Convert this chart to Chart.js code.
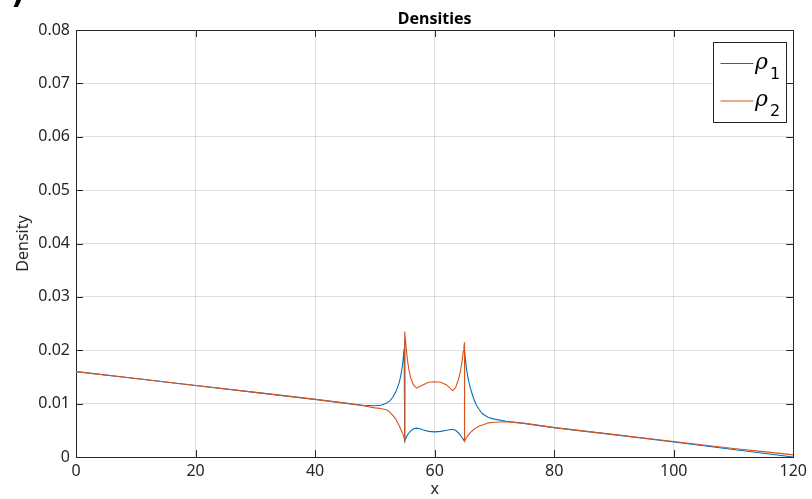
<!DOCTYPE html>
<html>
<head>
<meta charset="utf-8">
<script src="https://cdn.jsdelivr.net/npm/chart.js@4"></script>
<style>
  html, body { margin: 0; padding: 0; background: #ffffff; }
  #wrap { width: 812px; height: 499px; position: relative; }
</style>
</head>
<body>
<div id="wrap"><canvas id="c"></canvas></div>
<script>
// ---- data ----
const chartTitle = 'Densities';
const xAxisTitle = 'x';
const yAxisTitle = 'Density';
const seriesNames = ['ρ', 'ρ'];
const seriesSubscripts = ['1', '2'];
const xValues = [0, 10, 20, 30, 40, 45, 48, 50, 51, 52, 52.5, 53, 53.5, 54, 54.3, 54.6, 54.8, 54.9, 55,
                 55, 55.15, 55.3, 55.5, 55.7, 56, 56.5, 57, 57.5, 58, 59, 60, 61, 62, 62.5, 63, 63.5, 64, 64.3, 64.6, 64.8, 64.9, 65,
                 65, 65.15, 65.3, 65.5, 65.7, 66, 66.5, 67, 67.5, 68, 69, 70, 72, 75, 80, 90, 100, 110, 115, 120];
const rho1 = [0.0160, 0.0147, 0.0134, 0.0121, 0.0108, 0.0101, 0.0097, 0.0096, 0.0097, 0.0101, 0.0105, 0.0112, 0.0122, 0.0137, 0.0150, 0.0170, 0.0190, 0.0203, 0.0220,
              0.0030, 0.0034, 0.0038, 0.0042, 0.0045, 0.0049, 0.0053, 0.0054, 0.0053, 0.0051, 0.0048, 0.0047, 0.0048, 0.0050, 0.0051, 0.0052, 0.0050, 0.0045, 0.0041, 0.0036, 0.0033, 0.0031, 0.0030,
              0.0200, 0.0183, 0.0168, 0.0153, 0.0142, 0.0128, 0.0110, 0.0097, 0.0088, 0.0081, 0.0074, 0.0071, 0.0067, 0.0063, 0.0055, 0.0042, 0.0028, 0.0014, 0.0007, 0.0000];
const rho2 = [0.0160, 0.0147, 0.0134, 0.0121, 0.0108, 0.0101, 0.0096, 0.0092, 0.0091, 0.0088, 0.0084, 0.0078, 0.0071, 0.0060, 0.0053, 0.0045, 0.0040, 0.0036, 0.0032,
              0.0235, 0.0215, 0.0198, 0.0178, 0.0163, 0.0148, 0.0134, 0.0129, 0.0132, 0.0135, 0.0140, 0.0141, 0.0140, 0.0135, 0.0130, 0.0124, 0.0130, 0.0146, 0.0160, 0.0180, 0.0198, 0.0207, 0.0215,
              0.0030, 0.0033, 0.0036, 0.0039, 0.0042, 0.0046, 0.0051, 0.0055, 0.0058, 0.0060, 0.0064, 0.0065, 0.0066, 0.0063, 0.0055, 0.0042, 0.0029, 0.0016, 0.0010, 0.0004];
const xTicks = [0, 20, 40, 60, 80, 100, 120];
const yTicks = [0, 0.01, 0.02, 0.03, 0.04, 0.05, 0.06, 0.07, 0.08];
const seriesColors = ['#0072BD', '#D95319'];

const axisColor = '#262626';
const gridColor = 'rgba(38,38,38,0.15)';
const fontFamily = '"Noto Sans", "DejaVu Sans", sans-serif';

const framePlugin = {
  id: 'matlabFrame',
  beforeDatasetsDraw(chart) {
    const {ctx, chartArea: a, scales} = chart;
    ctx.save();
    ctx.strokeStyle = axisColor;
    ctx.lineWidth = 1;
    ctx.beginPath();
    const tl = 7;
    xTicks.forEach(v => {
      const px = Math.round(scales.x.getPixelForValue(v)) + 0.5;
      ctx.moveTo(px, a.bottom); ctx.lineTo(px, a.bottom - tl);
      ctx.moveTo(px, a.top); ctx.lineTo(px, a.top + tl);
    });
    yTicks.forEach(v => {
      const py = Math.round(scales.y.getPixelForValue(v)) + 0.5;
      ctx.moveTo(a.left, py); ctx.lineTo(a.left + tl, py);
      ctx.moveTo(a.right, py); ctx.lineTo(a.right - tl, py);
    });
    ctx.stroke();
    ctx.strokeRect(Math.round(a.left) + 0.5, Math.round(a.top) + 0.5,
                   Math.round(a.right - a.left), Math.round(a.bottom - a.top));
    ctx.restore();
  },
  afterDraw(chart) {
    const {ctx, chartArea: a} = chart;
    ctx.save();
    // title centred over the plot area
    ctx.fillStyle = '#000';
    ctx.font = 'bold 16px ' + fontFamily;
    ctx.textAlign = 'center';
    ctx.textBaseline = 'middle';
    ctx.fillText(chartTitle, (a.left + a.right) / 2, 19);

    // cropped panel label fragment at the top-left corner
    ctx.font = 'bold 30px "DejaVu Sans", sans-serif';
    ctx.textBaseline = 'alphabetic';
    ctx.textAlign = 'left';
    ctx.fillText(')', 11, 3);

    // legend box
    const bx = 713.5, by = 42.5, bw = 73, bh = 80;
    ctx.fillStyle = '#fff';
    ctx.fillRect(bx, by, bw, bh);
    ctx.strokeStyle = axisColor;
    ctx.lineWidth = 1;
    ctx.strokeRect(bx, by, bw, bh);
    const rows = [63.5, 101];
    chart.data.datasets.forEach((ds, i) => {
      const y = rows[i];
      ctx.strokeStyle = ds.borderColor;
      ctx.lineWidth = 1.2;
      ctx.beginPath();
      ctx.moveTo(720.5, y); ctx.lineTo(753.5, y);
      ctx.stroke();
      ctx.fillStyle = '#000';
      ctx.font = 'italic 22px "DejaVu Serif", "Liberation Serif", serif';
      ctx.textAlign = 'left';
      ctx.textBaseline = 'alphabetic';
      ctx.fillText(seriesNames[i], 755, y + 5);
      ctx.font = '16px "DejaVu Sans", sans-serif';
      ctx.fillText(seriesSubscripts[i], 770, y + 15);
    });
    ctx.restore();
  }
};

const makeData = (ys) => xValues.map((x, i) => ({x: x, y: ys[i]}));

new Chart(document.getElementById('c'), {
  type: 'line',
  data: {
    datasets: [
      { label: 'ρ1', data: makeData(rho1), borderColor: seriesColors[0], backgroundColor: seriesColors[0],
        borderWidth: 1.1, pointRadius: 0, tension: 0, fill: false, order: 2 },
      { label: 'ρ2', data: makeData(rho2), borderColor: seriesColors[1], backgroundColor: seriesColors[1],
        borderWidth: 1.1, pointRadius: 0, tension: 0, fill: false, order: 1 }
    ]
  },
  options: {
    responsive: true,
    maintainAspectRatio: false,
    animation: false,
    layout: { padding: { left: 0, right: 15, top: 30, bottom: 0 } },
    plugins: {
      legend: { display: false },
      tooltip: { enabled: false },
      title: { display: false }
    },
    scales: {
      x: {
        type: 'linear', min: 0, max: 120,
        afterBuildTicks: (s) => { s.ticks = xTicks.map(v => ({value: v})); },
        afterFit: (s) => { s.height = 42; },
        grid: { color: gridColor, drawTicks: false, lineWidth: 1 },
        border: { display: false },
        ticks: { color: axisColor, padding: 5, maxRotation: 0,
                 font: { family: fontFamily, size: 16 } },
        title: { display: true, text: xAxisTitle, color: axisColor,
                 font: { family: fontFamily, size: 16, lineHeight: 1.2 },
                 padding: { top: 0, bottom: 0 } }
      },
      y: {
        type: 'linear', min: 0, max: 0.08,
        afterBuildTicks: (s) => { s.ticks = yTicks.map(v => ({value: v})); },
        afterFit: (s) => { s.width = 76; },
        grid: { color: gridColor, drawTicks: false, lineWidth: 1 },
        border: { display: false },
        ticks: { color: axisColor, padding: 6,
                 font: { family: fontFamily, size: 16 },
                 callback: (v) => String(Math.round(v * 100) / 100) },
        title: { display: true, text: yAxisTitle, color: axisColor,
                 font: { family: fontFamily, size: 16, lineHeight: 1.2 },
                 padding: { top: 14, bottom: 0 } }
      }
    }
  },
  plugins: [framePlugin]
});
</script>
</body>
</html>
